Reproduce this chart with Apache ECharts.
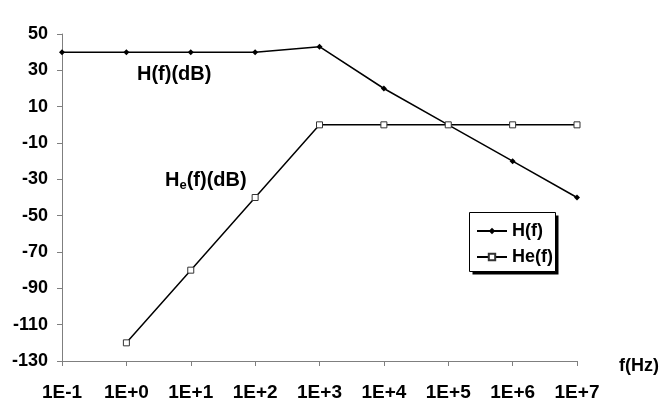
<!DOCTYPE html>
<html>
<head>
<meta charset="utf-8">
<script src="https://cdn.jsdelivr.net/npm/echarts@6/dist/echarts.min.js"></script>
<style>
  html, body { margin: 0; padding: 0; background: #fff; }
  #chart { width: 661px; height: 414px; }
</style>
</head>
<body>
<div id="chart"></div>
<script>
// Frequency decades on the horizontal axis
var frequencies = ['1E-1', '1E+0', '1E+1', '1E+2', '1E+3', '1E+4', '1E+5', '1E+6', '1E+7'];
// Gain of H(f) in dB at each decade
var hValues = [40, 40, 40, 40, 43, 20, 0, -20, -40];
// Gain of He(f) in dB (no sample at the first decade)
var heValues = [null, -120, -80, -40, 0, 0, 0, 0, 0];
// Vertical scale
var yMin = -130, yMax = 50, yStep = 20;

var FONT = 'Liberation Sans, Arial, sans-serif';
var axisGray = '#7f7f7f';

var chart = echarts.init(document.getElementById('chart'), null, { renderer: 'canvas' });

chart.setOption({
  animation: false,
  backgroundColor: '#fff',
  grid: { left: 62, right: 84, top: 34, bottom: 53, containLabel: false },
  xAxis: {
    type: 'category',
    data: frequencies,
    boundaryGap: false,
    axisLine: { show: true, onZero: false, lineStyle: { color: axisGray, width: 1 } },
    axisTick: { show: true, length: 5, lineStyle: { color: axisGray } },
    axisLabel: { color: '#000', fontFamily: FONT, fontWeight: 'bold', fontSize: 19, margin: 22 },
    splitLine: { show: false }
  },
  yAxis: {
    type: 'value',
    min: yMin, max: yMax, interval: yStep,
    axisLine: { show: true, lineStyle: { color: axisGray, width: 1 } },
    axisTick: { show: true, length: 5, lineStyle: { color: axisGray } },
    axisLabel: { color: '#000', fontFamily: FONT, fontWeight: 'bold', fontSize: 18, margin: 14 },
    splitLine: { show: false }
  },
  legend: {
    orient: 'vertical',
    left: 476, top: 222,
    padding: 0,
    itemGap: 8,
    itemWidth: 30, itemHeight: 8,
    textStyle: { color: '#000', fontFamily: FONT, fontWeight: 'bold', fontSize: 18 },
    data: ['H(f)', 'He(f)']
  },
  graphic: [
    // legend frame: offset dark shadow, then white box with thin border
    {
      type: 'rect', z: -1, silent: true,
      shape: { x: 472.5, y: 215.5, width: 86, height: 59 },
      style: { fill: '#000', stroke: null }
    },
    {
      type: 'rect', z: -1, silent: true,
      shape: { x: 469.5, y: 212.5, width: 86, height: 59 },
      style: { fill: '#fff', stroke: '#000', lineWidth: 1 }
    },
    {
      type: 'text', left: 137, top: 64,
      style: { text: 'H(f)(dB)', fill: '#000', font: 'bold 20px ' + FONT }
    },
    {
      type: 'text', left: 165, top: 170,
      style: {
        text: '{a|H}{s|e}{a|(f)(dB)}',
        rich: {
          a: { fill: '#000', fontFamily: FONT, fontWeight: 'bold', fontSize: 20 },
          s: { fill: '#000', fontFamily: FONT, fontWeight: 'bold', fontSize: 13, padding: [10, 0, 0, 0] }
        }
      }
    },
    {
      type: 'text', left: 619, top: 357,
      style: { text: 'f(Hz)', fill: '#000', font: 'bold 18px ' + FONT }
    }
  ],
  series: [
    {
      name: 'H(f)',
      type: 'line',
      data: hValues,
      symbol: 'diamond',
      symbolSize: 6,
      showSymbol: true,
      lineStyle: { color: '#000', width: 1.5 },
      itemStyle: { color: '#000', borderColor: '#000', borderWidth: 0 }
    },
    {
      name: 'He(f)',
      type: 'line',
      data: heValues,
      symbol: 'rect',
      symbolSize: 6,
      showSymbol: true,
      lineStyle: { color: '#000', width: 1.5 },
      itemStyle: { color: '#fff', borderColor: '#333', borderWidth: 1 }
    }
  ]
});
</script>
</body>
</html>
